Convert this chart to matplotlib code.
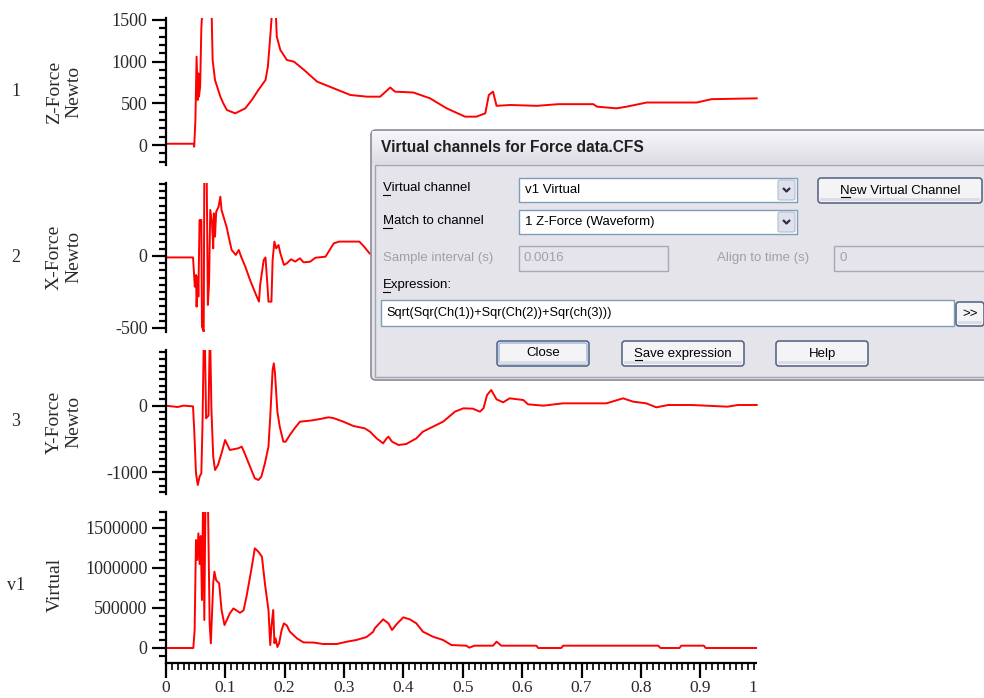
import numpy as np
import matplotlib
matplotlib.use("Agg")
from matplotlib import pyplot as plt
from matplotlib.patches import Rectangle, FancyBboxPatch
from matplotlib.ticker import MultipleLocator, FixedLocator, FixedFormatter

# ---- data (time in s) ----
t_z = [0.0, 0.047, 0.048, 0.050, 0.052, 0.054, 0.055, 0.056, 0.058, 0.060, 0.063,
       0.070, 0.077, 0.079, 0.083, 0.092, 0.097, 0.103, 0.117, 0.134, 0.145, 0.156,
       0.168, 0.172, 0.176, 0.179, 0.183, 0.185, 0.187, 0.193, 0.204, 0.216, 0.233,
       0.255, 0.283, 0.311, 0.339, 0.361, 0.378, 0.386, 0.417, 0.445, 0.473, 0.504,
       0.523, 0.538, 0.544, 0.551, 0.557, 0.580, 0.625, 0.661, 0.720, 0.726, 0.759,
       0.776, 0.810, 0.894, 0.919, 0.995]
z_force = [15, 15, -20, 300, 1060, 540, 860, 580, 700, 1400, 1800,
           1850, 1700, 1020, 780, 580, 500, 420, 380, 440, 540, 660,
           780, 940, 1300, 1600, 1750, 1650, 1300, 1140, 1020, 1000, 900,
           760, 680, 600, 580, 580, 690, 640, 630, 560, 440, 340,
           340, 380, 600, 640, 470, 480, 470, 490, 490, 460, 440,
           460, 510, 510, 550, 560]

t_x = [0.0, 0.046, 0.049, 0.051, 0.052, 0.054, 0.055, 0.057, 0.060, 0.061, 0.064,
       0.065, 0.069, 0.071, 0.073, 0.075, 0.078, 0.080, 0.081, 0.083, 0.085, 0.089,
       0.092, 0.094, 0.099, 0.103, 0.106, 0.111, 0.118, 0.123, 0.127, 0.134, 0.142,
       0.151, 0.157, 0.159, 0.165, 0.168, 0.171, 0.173, 0.178, 0.180, 0.183, 0.186,
       0.190, 0.193, 0.199, 0.204, 0.211, 0.218, 0.226, 0.232, 0.243, 0.252, 0.269,
       0.283, 0.292, 0.326, 0.334, 0.343, 0.350]
x_force = [-10, -10, -213, -132, -352, -143, -282, 250, 250, -490, -525,
           560, 560, -340, -187, 320, 227, 53, 296, 134, 307, 342,
           412, 320, 250, 194, 134, 42, 7, 42, -5, -74, -167,
           -259, -317, -201, -28, -10, -187, -317, -317, -28, 100, 53,
           76, 19, -62, -51, -23, -39, -16, -44, -40, -12, -5,
           88, 100, 100, 65, 19, 0]

t_y = [0.0, 0.020, 0.030, 0.046, 0.048, 0.051, 0.054, 0.057, 0.060, 0.062, 0.064,
       0.066, 0.068, 0.072, 0.074, 0.075, 0.077, 0.080, 0.083, 0.088, 0.094, 0.100,
       0.108, 0.122, 0.128, 0.133, 0.142, 0.150, 0.156, 0.161, 0.167, 0.173, 0.176,
       0.180, 0.182, 0.184, 0.188, 0.192, 0.198, 0.202, 0.209, 0.217, 0.226, 0.243,
       0.260, 0.274, 0.282, 0.299, 0.316, 0.335, 0.344, 0.355, 0.366, 0.372, 0.375,
       0.381, 0.392, 0.405, 0.422, 0.433, 0.450, 0.467, 0.487, 0.501, 0.517, 0.529,
       0.535, 0.541, 0.548, 0.557, 0.568, 0.579, 0.602, 0.610, 0.636, 0.669, 0.742,
       0.770, 0.787, 0.809, 0.826, 0.846, 0.885, 0.946, 0.963, 0.995]
y_force = [0, -20, 0, -10, -365, -1015, -1190, -1065, -1015, -265, 950,
           950, -190, -150, 950, 950, -65, -765, -965, -890, -715, -515,
           -665, -640, -615, -715, -915, -1090, -1115, -1065, -865, -615, -165,
           535, 635, 485, -90, -315, -540, -540, -440, -340, -240, -225,
           -200, -175, -185, -240, -305, -340, -390, -490, -565, -490, -465,
           -540, -590, -575, -490, -390, -315, -240, -90, -40, -45, -90,
           -40, 160, 235, 95, 50, 110, 85, 20, 0, 35, 35,
           110, 60, 35, -25, 10, 10, -15, 10, 10]

t_v = [0.0, 0.0465, 0.0487, 0.051, 0.053, 0.055, 0.057, 0.059, 0.061, 0.063, 0.065,
       0.067, 0.071, 0.074, 0.076, 0.080, 0.082, 0.085, 0.090, 0.094, 0.099, 0.108,
       0.114, 0.125, 0.131, 0.136, 0.145, 0.150, 0.156, 0.162, 0.167, 0.173, 0.176,
       0.178, 0.181, 0.183, 0.185, 0.188, 0.191, 0.195, 0.199, 0.204, 0.209, 0.221,
       0.232, 0.249, 0.265, 0.288, 0.305, 0.321, 0.338, 0.349, 0.352, 0.366, 0.375,
       0.381, 0.389, 0.400, 0.411, 0.422, 0.433, 0.450, 0.467, 0.481, 0.506, 0.511,
       0.520, 0.551, 0.557, 0.565, 0.624, 0.627, 0.666, 0.669, 0.829, 0.833, 0.865,
       0.868, 0.906, 0.909, 0.995]
virtual = [0, 0, 225000, 1350000, 1100000, 1433000, 1050000, 1400000, 600000, 1900000, 350000,
           1900000, 1900000, 300000, 58000, 808000, 954000, 846000, 808000, 475000, 287000, 433000,
           495000, 440000, 470000, 641000, 1016000, 1246000, 1204000, 1141000, 808000, 475000, 37000,
           266000, 475000, 60000, 120000, 12000, 60000, 220000, 308000, 280000, 204000, 120000,
           70000, 68000, 50000, 50000, 79000, 100000, 137000, 200000, 246000, 358000, 308000,
           225000, 300000, 383000, 358000, 308000, 204000, 141000, 100000, 37000, 29000, 4000,
           29000, 29000, 79000, 29000, 29000, 0, 0, 29000, 29000, 0, 0,
           29000, 29000, 0, 0]

time_ticks = [0, 0.1, 0.2, 0.3, 0.4, 0.5, 0.6, 0.7, 0.8, 0.9, 1.0]
time_labels = ["0", "0.1", "0.2", "0.3", "0.4", "0.5", "0.6", "0.7", "0.8", "0.9", "1.0"]

channels = [
    # number, title, times, values, (top px, bottom px), ylim, major ticks, minor step
    ("1", "Z-Force\nNewto", t_z, z_force, (18, 165), (-240, 1524), [0, 500, 1000, 1500], 100),
    ("2", "X-Force\nNewto", t_x, x_force, (183, 332), (-528, 507), [-500, 0], 50),
    ("3", "Y-Force\nNewto", t_y, y_force, (350, 494), (-1325, 835), [-1000, 0], 100),
    ("v1", "Virtual", t_v, virtual, (512, 663), (-187500, 1700000), [0, 500000, 1000000, 1500000], 100000),
]

W, H = 984, 698
fig = plt.figure(figsize=(W / 100, H / 100), dpi=100)
fig.patch.set_facecolor("white")

x_left, x_right = 165.7, 759.7
serif = "Liberation Serif"
txt_col = "#2a2a2a"


def px_rect(left, top, right, bottom):
    return [left / W, 1 - bottom / H, (right - left) / W, (bottom - top) / H]


label_y = [92, 257, 422, 585]
for i, (num, title, tt, vals, (top, bot), ylim, majors, minor) in enumerate(channels):
    ax = fig.add_axes(px_rect(x_left, top, x_right, bot))
    ax.plot(tt, vals, color="#ff0000", lw=1.4)
    ax.set_xlim(0, 1.0)
    ax.set_ylim(*ylim)
    ax.set_facecolor("none")
    for s in ["top", "right"]:
        ax.spines[s].set_visible(False)
    ax.spines["left"].set_linewidth(1.6)
    ax.yaxis.set_major_locator(FixedLocator(majors))
    ax.yaxis.set_major_formatter(FixedFormatter([str(m) for m in majors]))
    ax.yaxis.set_minor_locator(MultipleLocator(minor))
    ax.tick_params(axis="y", which="major", length=10, width=1.6, pad=3,
                   labelsize=13, labelcolor=txt_col)
    ax.tick_params(axis="y", which="minor", length=5, width=1.6)
    for lab in ax.get_yticklabels():
        lab.set_fontfamily(serif)
    if i < 3:
        ax.spines["bottom"].set_visible(False)
        ax.set_xticks([])
    else:
        ax.spines["bottom"].set_linewidth(1.6)
        ax.set_xticks(time_ticks)
        ax.set_xticklabels(time_labels)
        ax.xaxis.set_minor_locator(MultipleLocator(0.01))
        ax.tick_params(axis="x", which="major", length=11, width=1.6, pad=1.5,
                       labelsize=12.5, labelcolor=txt_col)
        ax.tick_params(axis="x", which="minor", length=5, width=1.2)
        for lab in ax.get_xticklabels():
            lab.set_fontfamily(serif)

    fig.text(16 / W, 1 - label_y[i] / H, num, ha="center", va="center",
             fontsize=13, family=serif, color=txt_col)
    fig.text(64 / W if "\n" in title else 55 / W, 1 - label_y[i] / H, title,
             rotation=90, ha="center", va="center", multialignment="center",
             fontsize=14, family=serif, color=txt_col, linespacing=1.15)

# ---- dialog box overlay (pixel coordinates) ----
ov = fig.add_axes([0, 0, 1, 1])
ov.set_zorder(10)
ov.axis("off")

# the screenshot is cropped just past the end of the time axis
ov.add_patch(Rectangle((757, 640), 300, 60, facecolor="white", edgecolor="none"))

sans = "Liberation Sans"
body = "#e4e4ea"
outer = FancyBboxPatch((371, 130), 640, 250, boxstyle="round,pad=0,rounding_size=5",
                       facecolor=body, edgecolor="#8a8a9a", lw=1.2)
ov.add_patch(outer)
grad = np.linspace(0, 1, 40)[:, None]
cmap = matplotlib.colors.LinearSegmentedColormap.from_list("tb", ["#f7f7fa", "#dcdce4"])
im = ov.imshow(grad, extent=(372, 1000, 164, 131), aspect="auto", cmap=cmap, zorder=2)
im.set_clip_path(outer)
ov.add_patch(Rectangle((375, 165), 640, 212, facecolor=body, edgecolor="#a4a4b0", lw=1, zorder=3))
ov.text(381, 148, "Virtual channels for Force data.CFS", fontsize=11.2, weight="bold",
        family=sans, color="#202020", va="center", zorder=4)


def label(x, y, s, ul_w=0, col="black"):
    ov.text(x, y, s, fontsize=9.5, family=sans, color=col, va="center", zorder=4)
    if ul_w:
        ov.plot([x, x + ul_w], [y + 7, y + 7], color=col, lw=0.8, zorder=4)


def box(x0, y0, x1, y1, face="white", edge="#7f9db9"):
    ov.add_patch(Rectangle((x0, y0), x1 - x0, y1 - y0, facecolor=face, edgecolor=edge,
                           lw=1, zorder=4))


def button(x0, y0, x1, y1, s, default=False):
    ov.add_patch(FancyBboxPatch((x0, y0), x1 - x0, y1 - y0,
                                boxstyle="round,pad=0,rounding_size=3",
                                facecolor="#f4f4f7", edgecolor="#4e5e7e", lw=1.1, zorder=4))
    if default:
        ov.add_patch(FancyBboxPatch((x0 + 2, y0 + 2), x1 - x0 - 4, y1 - y0 - 4,
                                    boxstyle="round,pad=0,rounding_size=2",
                                    facecolor="none", edgecolor="#9db4e0", lw=1, zorder=4))
    ov.add_patch(Rectangle((x0 + 2, y1 - 5), x1 - x0 - 4, 3, facecolor="#dcdce4",
                           edgecolor="none", zorder=4))
    ov.text((x0 + x1) / 2, (y0 + y1) / 2, s, fontsize=9.5, family=sans,
            ha="center", va="center", zorder=5)


def combo(x0, y0, x1, y1, s):
    box(x0, y0, x1, y1)
    ov.text(x0 + 6, (y0 + y1) / 2, s, fontsize=9.5, family=sans, va="center", zorder=5)
    ov.add_patch(FancyBboxPatch((x1 - 19, y0 + 2), 17, y1 - y0 - 4,
                                boxstyle="round,pad=0,rounding_size=2",
                                facecolor="#dfe2ec", edgecolor="#b4bccc", lw=0.8, zorder=5))
    cx, cy = x1 - 10.5, (y0 + y1) / 2
    ov.plot([cx - 3.5, cx, cx + 3.5], [cy - 2, cy + 1.5, cy - 2], color="#303040",
            lw=1.6, zorder=6, solid_capstyle="butt")


label(383, 188, "Virtual channel", ul_w=7)
combo(519, 178, 797, 202, "v1 Virtual")
button(818, 178, 982, 203, "New Virtual Channel")
ov.plot([841, 850], [197, 197], color="black", lw=0.8, zorder=6)

label(383, 221, "Match to channel", ul_w=9)
combo(519, 210, 797, 234, "1 Z-Force (Waveform)")

grey = "#a0a0a8"
label(383, 258, "Sample interval (s)", col=grey)
box(519, 246, 668, 271, face=body, edge="#a8a8b4")
ov.text(524, 258, "0.0016", fontsize=9.5, family=sans, color=grey, va="center", zorder=5)
label(717, 258, "Align to time (s)", col=grey)
box(834, 246, 1000, 271, face=body, edge="#a8a8b4")
ov.text(839, 258, "0", fontsize=9.5, family=sans, color=grey, va="center", zorder=5)

label(383, 285, "Expression:", ul_w=7)
box(381, 300, 954, 326)
ov.text(386, 313, "Sqrt(Sqr(Ch(1))+Sqr(Ch(2))+Sqr(ch(3)))", fontsize=9.2, family=sans,
        va="center", zorder=5)
button(956, 302, 984, 326, ">>")

button(497, 341, 589, 366, "Close", default=True)
button(622, 341, 744, 366, "Save expression")
ov.plot([635, 642], [360, 360], color="black", lw=0.8, zorder=6)
button(776, 341, 868, 366, "Help")

ov.set_xlim(0, W)
ov.set_ylim(H, 0)

fig.savefig("out.png", dpi=100)
